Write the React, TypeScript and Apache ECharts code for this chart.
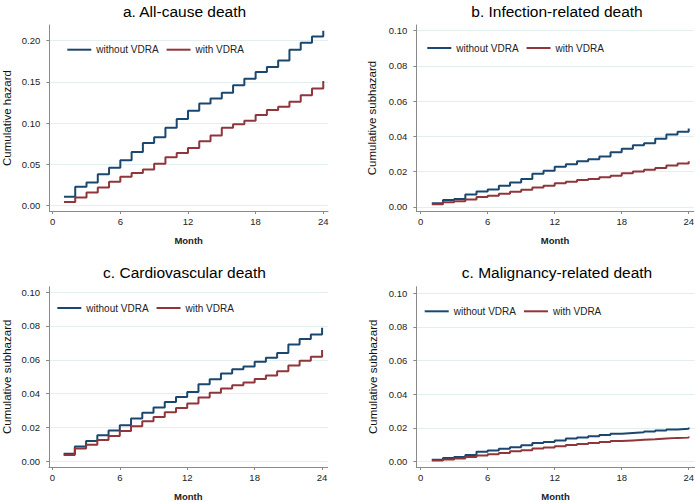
import React, { useEffect, useRef } from "react";
import * as echarts from "echarts";

const months = [1, 2, 3, 4, 5, 6, 7, 8, 9, 10, 11, 12, 13, 14, 15, 16, 17, 18, 19, 20, 21, 22, 23, 24];
const xTicks = [0, 6, 12, 18, 24];

const allCauseWithout = [0.011, 0.023, 0.028, 0.038, 0.046, 0.055, 0.065, 0.076, 0.083, 0.0945, 0.105, 0.115, 0.124, 0.130, 0.137, 0.146, 0.154, 0.162, 0.168, 0.176, 0.189, 0.1975, 0.205, 0.212];
const allCauseWith = [0.0044, 0.010, 0.016, 0.022, 0.029, 0.035, 0.0396, 0.044, 0.051, 0.0586, 0.064, 0.070, 0.078, 0.085, 0.0945, 0.0986, 0.103, 0.110, 0.116, 0.120, 0.126, 0.134, 0.142, 0.151];

const infectionWithout = [0.002, 0.0038, 0.0044, 0.007, 0.0087, 0.0098, 0.012, 0.0138, 0.0157, 0.0187, 0.0205, 0.0227, 0.0242, 0.0258, 0.027, 0.0286, 0.031, 0.033, 0.035, 0.036, 0.0386, 0.041, 0.0426, 0.0445];
const infectionWith = [0.0015, 0.0025, 0.0032, 0.0042, 0.0055, 0.0062, 0.0074, 0.0085, 0.0097, 0.011, 0.012, 0.0134, 0.0142, 0.0152, 0.0157, 0.0167, 0.0176, 0.019, 0.020, 0.021, 0.022, 0.0235, 0.0246, 0.0258];

const cardioWithout = [0.0046, 0.0088, 0.012, 0.0155, 0.0183, 0.0214, 0.0254, 0.0288, 0.0319, 0.0351, 0.038, 0.041, 0.0456, 0.0485, 0.052, 0.0544, 0.056, 0.0588, 0.0613, 0.064, 0.069, 0.0723, 0.075, 0.079];
const cardioWith = [0.0038, 0.0076, 0.0099, 0.0126, 0.015, 0.018, 0.0208, 0.0237, 0.0263, 0.029, 0.0315, 0.0342, 0.0378, 0.0406, 0.0431, 0.045, 0.0466, 0.0487, 0.0508, 0.0532, 0.0567, 0.0594, 0.0618, 0.0658];

const malignancyWithout = [0.001, 0.002, 0.0027, 0.0038, 0.0058, 0.0065, 0.0075, 0.0084, 0.0096, 0.011, 0.0115, 0.0125, 0.0136, 0.0142, 0.015, 0.0157, 0.0165, 0.0169, 0.0173, 0.0178, 0.0184, 0.019, 0.0194, 0.0202];
const malignancyWith = [0.0006, 0.0012, 0.0017, 0.0027, 0.0036, 0.0042, 0.005, 0.006, 0.0067, 0.0077, 0.0083, 0.009, 0.0098, 0.0104, 0.011, 0.0115, 0.0121, 0.0125, 0.0129, 0.0132, 0.0136, 0.014, 0.0142, 0.0148];

const yTicksA = [0, 0.05, 0.1, 0.15, 0.2];
const yTicksB = [0, 0.02, 0.04, 0.06, 0.08, 0.1];

const titles = ["a. All-cause death", "b. Infection-related death", "c. Cardiovascular death", "c. Malignancy-related death"];
const yNames = ["Cumulative hazard", "Cumulative subhazard", "Cumulative subhazard", "Cumulative subhazard"];
const seriesNames = ["without VDRA", "with VDRA"];

const NAVY = "#1a476f";
const MAROON = "#90353b";
const FONT = "'Liberation Sans', Arial, sans-serif";

export default function App() {
  const ref = useRef<HTMLDivElement>(null);
  useEffect(() => {
    if (!ref.current) return;
    const chart = echarts.init(ref.current, undefined, { renderer: "svg" });

    const panels = [
      { grid: { left: 49.3, top: 25, width: 278.7, height: 186 }, xmin: -0.3, xmax: 24.42, ymin: -0.0064, ymax: 0.219, yTicks: yTicksA, dec: 2, data: [allCauseWithout, allCauseWith], title: { x: 184.5, y: 3 }, legend: { left: 67.3, top: 44.7 }, nameGap: 36 },
      { grid: { left: 416.3, top: 25, width: 278.4, height: 186 }, xmin: -0.39, xmax: 24.45, ymin: -0.0024, ymax: 0.1032, yTicks: yTicksB, dec: 2, data: [infectionWithout, infectionWith], title: { x: 557, y: 3 }, legend: { left: 427.3, top: 43 }, nameGap: 38 },
      { grid: { left: 48.3, top: 286.7, width: 279.4, height: 186 }, xmin: -0.3, xmax: 24.5, ymin: -0.0033, ymax: 0.1032, yTicks: yTicksB, dec: 2, data: [cardioWithout, cardioWith], title: { x: 184.5, y: 264 }, legend: { left: 57.3, top: 303 }, nameGap: 36 },
      { grid: { left: 416.3, top: 286.7, width: 278.4, height: 186 }, xmin: -0.39, xmax: 24.54, ymin: -0.0033, ymax: 0.1038, yTicks: yTicksB, dec: 2, data: [malignancyWithout, malignancyWith], title: { x: 557, y: 264 }, legend: { left: 424.7, top: 306.3 }, nameGap: 37 },
    ];

    const axisLineStyle = { color: "#8a8a8a", width: 1 };
    const option: any = {
      animation: false,
      backgroundColor: "#ffffff",
      textStyle: { fontFamily: FONT },
      grid: panels.map((p) => ({ ...p.grid, containLabel: false })),
      xAxis: panels.map((p, i) => ({
        type: "value",
        gridIndex: i,
        min: p.xmin,
        max: p.xmax,
        name: "Month",
        nameLocation: "middle",
        nameGap: 24,
        nameTextStyle: { fontFamily: FONT, fontSize: 9.5, fontWeight: "bold", color: "#222" },
        axisLine: { show: true, onZero: false, lineStyle: axisLineStyle },
        axisTick: { show: true, length: 3, inside: false, lineStyle: axisLineStyle, customValues: xTicks },
        axisLabel: { fontFamily: FONT, fontSize: 9.5, color: "#222", margin: 5, customValues: xTicks, formatter: (v: number) => String(v) },
        splitLine: { show: false },
      })),
      yAxis: panels.map((p, i) => ({
        type: "value",
        gridIndex: i,
        min: p.ymin,
        max: p.ymax,
        name: yNames[i],
        nameLocation: "middle",
        nameGap: p.nameGap,
        nameRotate: 90,
        nameTextStyle: { fontFamily: FONT, fontSize: 11.5, color: "#111" },
        axisLine: { show: true, onZero: false, lineStyle: axisLineStyle },
        axisTick: { show: true, length: 3, inside: false, lineStyle: axisLineStyle, customValues: p.yTicks },
        axisLabel: { fontFamily: FONT, fontSize: 9.5, color: "#222", margin: 9, customValues: p.yTicks, formatter: (v: number) => v.toFixed(p.dec) },
        splitLine: { show: true, lineStyle: { color: "#e4eef1", width: 1 } },
      })),
      legend: panels.map((p) => ({
        left: p.legend.left,
        top: p.legend.top,
        orient: "horizontal",
        padding: 0,
        itemGap: 8,
        itemWidth: 24,
        itemHeight: 2,
        icon: "rect",
        selectedMode: false,
        data: seriesNames,
        textStyle: { fontFamily: FONT, fontSize: 10, color: "#222" },
      })),
      graphic: panels.map((p, i) => ({
        type: "text",
        x: p.title.x,
        y: p.title.y,
        style: {
          text: titles[i],
          fill: "#000",
          font: `15.5px ${FONT}`,
          textAlign: "center",
          textVerticalAlign: "top",
          align: "center",
          verticalAlign: "top",
        },
      })),
      series: panels.flatMap((p, i) =>
        p.data.map((vals, j) => ({
          type: "line",
          name: seriesNames[j],
          xAxisIndex: i,
          yAxisIndex: i,
          step: "end",
          showSymbol: false,
          symbol: "none",
          color: j === 0 ? NAVY : MAROON,
          lineStyle: { width: 2, color: j === 0 ? NAVY : MAROON },
          data: months.map((m, k) => [m, vals[k]]),
        }))
      ),
    };
    chart.setOption(option);
    return () => chart.dispose();
  }, []);
  return <div ref={ref} style={{ width: 697, height: 502, position: "absolute", left: 0, top: 0 }} />;
}
